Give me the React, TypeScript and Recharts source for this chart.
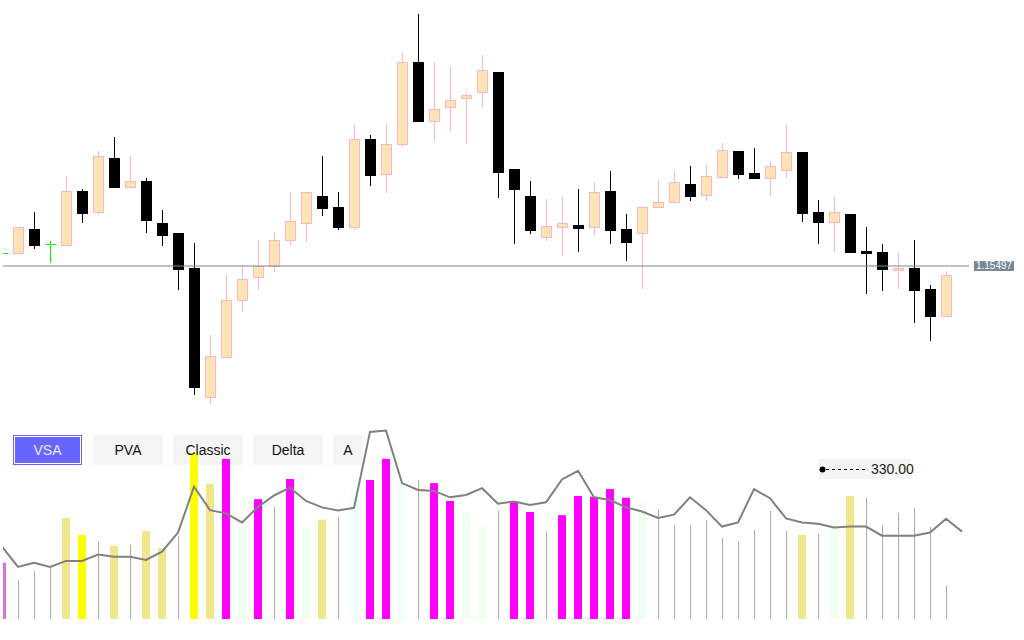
import React from 'react';
import { ComposedChart, Bar, Line, XAxis, YAxis, ReferenceLine } from 'recharts';

// price bars, one entry per bar
const opens = [
  1.15523, 1.15523, 1.15571, 1.15541, 1.15539, 1.15647, 1.15605, 1.15713, 1.15655, 1.15667,
  1.15583, 1.15563, 1.15493, 1.15235, 1.15315, 1.15429, 1.15475, 1.15497, 1.15549, 1.15583,
  1.15637, 1.15615, 1.15575, 1.15751, 1.15681, 1.15741, 1.15905, 1.15787, 1.15815, 1.15833,
  1.15845, 1.15885, 1.15691, 1.15637, 1.15555, 1.15575, 1.15579, 1.15575, 1.15647, 1.15571,
  1.15563, 1.15615, 1.15625, 1.15661, 1.15639, 1.15675, 1.15727, 1.15683, 1.15673, 1.15689,
  1.15725, 1.15605, 1.15585, 1.15601, 1.15527, 1.15525, 1.15489, 1.15493, 1.15451, 1.15397,
];
const highs = [
  1.15525, 1.15575, 1.15605, 1.15547, 1.15677, 1.15651, 1.15727, 1.15755, 1.15717, 1.15673,
  1.15609, 1.15563, 1.15543, 1.15359, 1.15479, 1.15497, 1.15549, 1.15565, 1.15645, 1.15645,
  1.15717, 1.15645, 1.15779, 1.15759, 1.15781, 1.15923, 1.16001, 1.15905, 1.15897, 1.15845,
  1.15919, 1.15885, 1.15691, 1.15667, 1.15631, 1.15635, 1.15651, 1.15665, 1.15687, 1.15601,
  1.15615, 1.15669, 1.15687, 1.15697, 1.15699, 1.15743, 1.15727, 1.15733, 1.15707, 1.15779,
  1.15725, 1.15629, 1.15635, 1.15601, 1.15575, 1.15541, 1.15523, 1.15549, 1.15459, 1.15487,
];
const lows = [
  1.15521, 1.15523, 1.15531, 1.15503, 1.15539, 1.15583, 1.15599, 1.15655, 1.15651, 1.15563,
  1.15537, 1.15449, 1.15239, 1.15221, 1.15313, 1.15405, 1.15449, 1.15485, 1.15539, 1.15545,
  1.15597, 1.15569, 1.15569, 1.15657, 1.15643, 1.15735, 1.15787, 1.15747, 1.15767, 1.15741,
  1.15815, 1.15633, 1.15541, 1.15561, 1.15547, 1.15517, 1.15525, 1.15559, 1.15541, 1.15507,
  1.15451, 1.15613, 1.15625, 1.15627, 1.15627, 1.15675, 1.15671, 1.15673, 1.15637, 1.15673,
  1.15585, 1.15541, 1.15525, 1.15523, 1.15441, 1.15447, 1.15451, 1.15383, 1.15347, 1.15395,
];
const closes = [
  1.15523, 1.15575, 1.15539, 1.15541, 1.15647, 1.15603, 1.15717, 1.15655, 1.15667, 1.15589,
  1.15559, 1.15491, 1.15255, 1.15317, 1.15429, 1.15471, 1.15497, 1.15549, 1.15587, 1.15645,
  1.15613, 1.15575, 1.15751, 1.15679, 1.15741, 1.15905, 1.15787, 1.15811, 1.15829, 1.15839,
  1.15889, 1.15685, 1.15651, 1.15569, 1.15577, 1.15583, 1.15573, 1.15645, 1.15569, 1.15545,
  1.15615, 1.15625, 1.15665, 1.15637, 1.15677, 1.15729, 1.15681, 1.15673, 1.15697, 1.15725,
  1.15603, 1.15585, 1.15605, 1.15525, 1.15523, 1.15491, 1.15493, 1.15449, 1.15397, 1.15479,
];
const lastPrice = 1.15497;

// volume per bar + its VSA class, and the moving average (one point longer)
const volumes = [
  123, 85, 105, 112, 221, 184, 168, 160, 162, 192,
  155, 181, 362, 295, 350, 201, 262, 245, 306, 201,
  217, 223, 278, 304, 350, 295, 304, 297, 258, 234,
  203, 237, 256, 234, 192, 227, 269, 267, 284, 265,
  254, 238, 205, 205, 216, 177, 168, 195, 236, 192,
  184, 186, 216, 269, 265, 205, 232, 243, 201, 73,
];
const volumeKinds = [
  'O', 'N', 'N', 'N', 'K', 'Y', 'N', 'K', 'N', 'K',
  'K', 'N', 'Y', 'K', 'M', 'H', 'M', 'N', 'M', 'H',
  'K', 'N', 'A', 'M', 'M', 'A', 'N', 'M', 'M', 'H',
  'H', 'N', 'M', 'M', 'N', 'M', 'M', 'M', 'M', 'M',
  'H', 'N', 'N', 'N', 'N', 'N', 'N', 'N', 'N', 'N',
  'K', 'N', 'H', 'K', 'N', 'N', 'N', 'N', 'N', 'N',
];
const volumeAvg = [
  158, 114, 123, 114, 127, 127, 141, 136, 136, 129,
  147, 189, 289, 238, 231, 211, 245, 270, 287, 258,
  244, 237, 243, 409, 412, 297, 282, 280, 266, 271,
  286, 252, 257, 249, 255, 305, 324, 266, 260, 244,
  235, 221, 228, 266, 238, 202, 211, 284, 264, 220,
  211, 208, 200, 202, 202, 182, 182, 182, 189, 219,
  191,
];
const levelValue = '330.00';
const modes = ['VSA', 'PVA', 'Classic', 'Delta', 'A'];

const KIND_COLORS: Record<string, string> = {
  O: '#DA70D6',
  K: '#F0E68C',
  Y: '#FFFF00',
  M: '#FF00FF',
  H: '#F0FFF0',
  A: '#F0FFFF',
};

const candles = opens.map((open, i) => ({
  i,
  open,
  high: highs[i],
  low: lows[i],
  close: closes[i],
  hl: [lows[i], highs[i]],
}));

const volumeData = volumeAvg.map((avg, i) => ({
  i,
  avg,
  v: i < volumes.length ? volumes[i] : null,
  kind: volumeKinds[i],
}));

const CandleShape = (props: any) => {
  const { x, y, width, height, payload } = props;
  if (!payload) return null;
  const { open, close, high, low } = payload;
  const span = high - low;
  const k = span > 0 ? height / span : 0;
  const py = (p: number) => y + (high - p) * k;
  const cx = Math.round(x + width / 2) + 0.5;

  if (open === close) {
    const yy = Math.round(py(open)) + 0.5;
    return (
      <g>
        <line x1={cx} x2={cx} y1={y} y2={y + height} stroke="#00FF00" />
        <line x1={cx - 5.5} x2={cx + 5.5} y1={yy} y2={yy} stroke="#00FF00" />
      </g>
    );
  }

  const bull = close > open;
  const top = Math.round(py(Math.max(open, close))) + 0.5;
  const bot = Math.round(py(Math.min(open, close))) + 0.5;
  const edge = bull ? '#FFB6C1' : '#000000';
  return (
    <g>
      <line x1={cx} x2={cx} y1={y} y2={y + height} stroke={edge} />
      <rect
        x={cx - 5}
        y={top}
        width={10}
        height={Math.max(bot - top, 1)}
        fill={bull ? '#FFE4B5' : '#000000'}
        stroke={edge}
      />
    </g>
  );
};

const VolumeShape = (props: any) => {
  const { x, y, width, height, payload } = props;
  if (!payload || height == null) return null;
  const cx = x + width / 2;
  if (payload.kind === 'N') {
    const lx = Math.round(cx) + 0.5;
    return <line x1={lx} x2={lx} y1={y} y2={y + height} stroke="#A9A9A9" />;
  }
  return <rect x={cx - 4} y={y} width={8} height={height} fill={KIND_COLORS[payload.kind]} />;
};

const PriceTag = (props: any) => {
  const vb = props.viewBox || {};
  const x = (vb.x || 0) + (vb.width || 0) + 5;
  const y = vb.y || 0;
  return (
    <g>
      <rect x={x} y={y - 5} width={40} height={10} fill="#778899" />
      <text
        x={x + 20}
        y={y + 0.5}
        fill="#ffffff"
        fontSize={10}
        textAnchor="middle"
        dominantBaseline="middle"
        fontFamily='"Liberation Sans", Arial, sans-serif'
      >
        {lastPrice.toFixed(5)}
      </text>
    </g>
  );
};

const BTN_LEFT = [13, 93, 173, 253, 333];
const BTN_WIDTH = [69, 70, 70, 70, 30];

export default function App() {
  return (
    <div
      style={{
        position: 'absolute',
        left: 0,
        top: 0,
        width: 1024,
        height: 640,
        background: '#ffffff',
        overflow: 'hidden',
        fontFamily: '"Liberation Sans", Arial, sans-serif',
      }}
    >
      {/* button backgrounds sit under the volume bars */}
      {modes.map((m, k) => (
        <div
          key={'bg' + m}
          style={{
            position: 'absolute',
            left: BTN_LEFT[k],
            top: 435,
            width: BTN_WIDTH[k],
            height: 30,
            boxSizing: 'border-box',
            background: k === 0 ? '#6666FF' : '#F5F5F5',
            border: k === 0 ? '1px solid #6666FF' : 'none',
            boxShadow: k === 0 ? 'inset 0 0 0 1px #ffffff' : 'none',
          }}
        />
      ))}

      <div style={{ position: 'absolute', left: 0, top: 0 }}>
        <ComposedChart width={1024} height={420} data={candles} margin={{ top: 0, right: 55, bottom: 0, left: 3 }}>
          <XAxis type="number" dataKey="i" domain={[0.0625, 60.4375]} hide allowDataOverflow />
          <YAxis type="number" domain={[1.15189, 1.16029]} hide allowDataOverflow />
          <ReferenceLine y={lastPrice} stroke="#778899" strokeWidth={1} label={<PriceTag />} />
          <Bar dataKey="hl" barSize={11} shape={<CandleShape />} isAnimationActive={false} />
        </ComposedChart>
      </div>

      <div style={{ position: 'absolute', left: 0, top: 420 }}>
        <ComposedChart width={1024} height={199} data={volumeData} margin={{ top: 0, right: 55, bottom: 0, left: 3 }}>
          <XAxis type="number" dataKey="i" domain={[0.0625, 60.4375]} hide allowDataOverflow />
          <YAxis type="number" domain={[0, 435]} hide allowDataOverflow />
          <Line type="linear" dataKey="avg" stroke="#808080" strokeWidth={2} dot={false} isAnimationActive={false} />
          <Bar dataKey="v" barSize={8} shape={<VolumeShape />} isAnimationActive={false} />
        </ComposedChart>
      </div>

      {/* button captions drawn over the bars */}
      {modes.map((m, k) => (
        <div
          key={'tx' + m}
          style={{
            position: 'absolute',
            left: BTN_LEFT[k],
            top: 435,
            width: BTN_WIDTH[k],
            height: 30,
            lineHeight: '30px',
            textAlign: 'center',
            fontSize: 14,
            color: k === 0 ? '#E8E8FF' : '#111111',
          }}
        >
          {m}
        </div>
      ))}

      {/* level marker */}
      <div
        style={{
          position: 'absolute',
          left: 819,
          top: 459,
          width: 92,
          height: 20,
          background: '#F5F5F5',
        }}
      >
        <svg width={52} height={20} style={{ position: 'absolute', left: 0, top: 0 }}>
          <circle cx={3.5} cy={10.5} r={3} fill="#000000" />
          <line x1={7} x2={49} y1={10.5} y2={10.5} stroke="#000000" strokeDasharray="3 3" />
        </svg>
        <div
          style={{
            position: 'absolute',
            left: 52,
            top: 0,
            height: 20,
            lineHeight: '20px',
            fontSize: 14,
            color: '#222222',
          }}
        >
          {levelValue}
        </div>
      </div>
    </div>
  );
}
